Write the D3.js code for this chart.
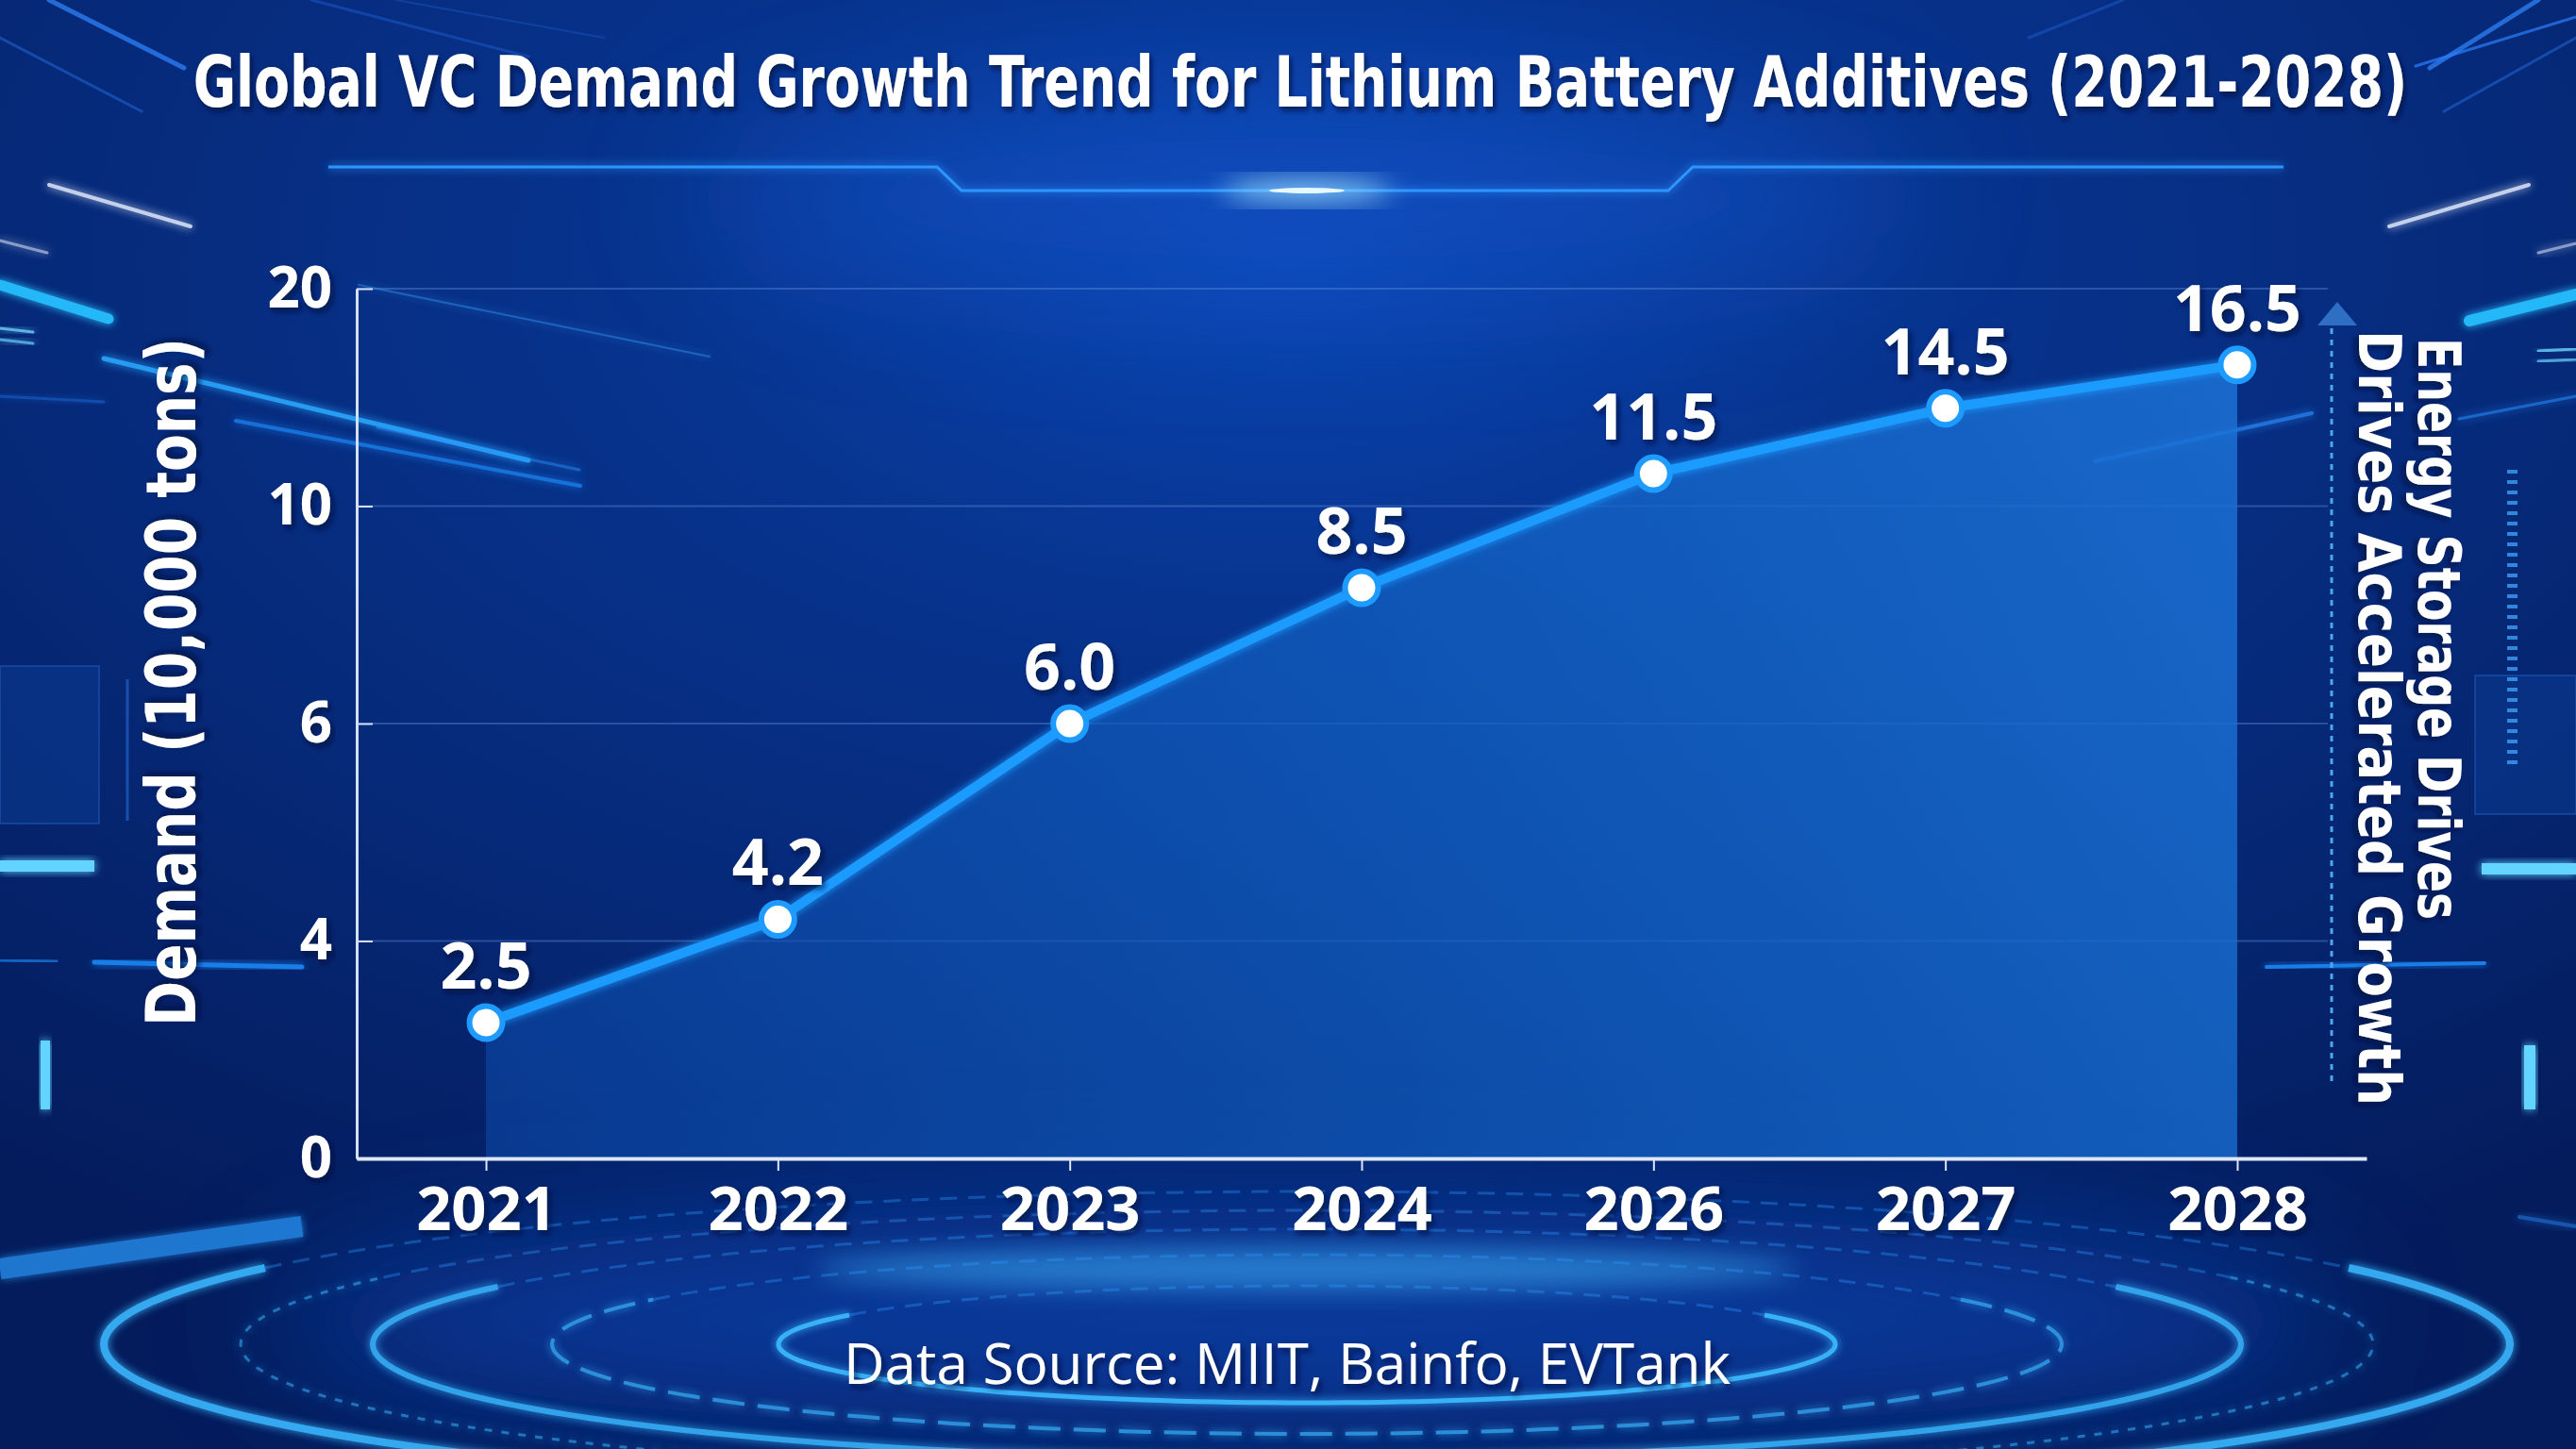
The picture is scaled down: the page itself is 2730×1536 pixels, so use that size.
<!DOCTYPE html>
<html>
<head>
<meta charset="utf-8">
<script src="https://cdn.jsdelivr.net/npm/d3@7"></script>
<style>
  html, body { margin: 0; padding: 0; background: #051f66; overflow: hidden; }
  svg { display: block; }
</style>
</head>
<body>
<div id="chart"></div>
<script>
var years = ["2021", "2022", "2023", "2024", "2026", "2027", "2028"];
var demand = [2.5, 4.2, 6.0, 8.5, 11.5, 14.5, 16.5];
var yTicks = [0, 4, 6, 10, 20];
var titleText = "Global VC Demand Growth Trend for Lithium Battery Additives (2021-2028)";
var yLabel = "Demand (10,000 tons)";
var noteLines = ["Energy Storage Drives", "Drives Accelerated Growth"];
var sourceText = "Data Source: MIIT, Bainfo, EVTank";

var width = 2730, height = 1536;
var plot = {left: 378, right: 2508, top: 306, bottom: 1228, gridEnd: 2467};
var narrow = "'Liberation Sans Narrow', 'DejaVu Sans Condensed', 'Roboto', sans-serif";
var sans = "'Open Sans', 'Noto Sans', 'Lato', sans-serif";

var rows = years.map(function(yr, i) { return {year: yr, value: demand[i]}; });

var svg = d3.select("#chart").append("svg")
    .attr("width", width)
    .attr("height", height)
    .attr("viewBox", [0, 0, width, height]);

var defs = svg.append("defs");

var bg = defs.append("radialGradient").attr("id", "bg")
    .attr("cx", "50%").attr("cy", "18%").attr("r", "80%");
bg.append("stop").attr("offset", "0%").attr("stop-color", "#0a45b2");
bg.append("stop").attr("offset", "30%").attr("stop-color", "#07348f");
bg.append("stop").attr("offset", "60%").attr("stop-color", "#062a7a");
bg.append("stop").attr("offset", "100%").attr("stop-color", "#041c5c");

var areaGrad = defs.append("linearGradient").attr("id", "areaGrad")
    .attr("gradientUnits", "userSpaceOnUse")
    .attr("x1", 515).attr("y1", 1228).attr("x2", 2371).attr("y2", 355);
areaGrad.append("stop").attr("offset", "0%").attr("stop-color", "#0c4cae").attr("stop-opacity", 0.55);
areaGrad.append("stop").attr("offset", "55%").attr("stop-color", "#1160c2").attr("stop-opacity", 0.75);
areaGrad.append("stop").attr("offset", "100%").attr("stop-color", "#1b72d6").attr("stop-opacity", 0.85);

var glow = defs.append("filter").attr("id", "glow")
    .attr("x", "-20%").attr("y", "-50%").attr("width", "140%").attr("height", "200%");
glow.append("feGaussianBlur").attr("stdDeviation", 5).attr("result", "b");
var gm = glow.append("feMerge");
gm.append("feMergeNode").attr("in", "b");
gm.append("feMergeNode").attr("in", "SourceGraphic");

defs.append("filter").attr("id", "blur")
    .attr("x", "-50%").attr("y", "-50%").attr("width", "200%").attr("height", "200%")
  .append("feGaussianBlur").attr("stdDeviation", 14);

defs.append("filter").attr("id", "haze")
    .attr("x", "-50%").attr("y", "-100%").attr("width", "200%").attr("height", "300%")
  .append("feGaussianBlur").attr("stdDeviation", 70);

defs.append("filter").attr("id", "shadow")
    .attr("x", "-10%").attr("y", "-30%").attr("width", "120%").attr("height", "160%")
  .append("feDropShadow")
    .attr("dx", 3).attr("dy", 4).attr("stdDeviation", 3)
    .attr("flood-color", "#00103a").attr("flood-opacity", 0.75);

// ---- background ----
var back = svg.append("g").attr("class", "background");
back.append("rect").attr("width", width).attr("height", height).attr("fill", "url(#bg)");

// haze behind the header and above the rings
back.append("ellipse").attr("cx", 1385).attr("cy", 210).attr("rx", 650).attr("ry", 110)
    .attr("fill", "#1358d0").attr("opacity", 0.45).attr("filter", "url(#haze)");
back.append("ellipse").attr("cx", 1385).attr("cy", 1400).attr("rx", 1100).attr("ry", 120)
    .attr("fill", "#0c4ec4").attr("opacity", 0.6).attr("filter", "url(#haze)");

// perspective beams from the top corners
var beams = [
  [52, 0, 195, 72, 5, "#2b7cf0", 0.8], [0, 40, 150, 118, 3, "#1f62d0", 0.6],
  [330, 0, 560, 60, 3, "#1d5ccc", 0.5], [420, 0, 640, 40, 2, "#1d5ccc", 0.4],
  [2690, 0, 2575, 72, 5, "#2b7cf0", 0.8], [2730, 40, 2590, 118, 3, "#1f62d0", 0.6],
  [2250, 0, 2150, 40, 3, "#1d5ccc", 0.5], [2560, 70, 2730, 18, 3, "#2a7fff", 0.7]
];
back.selectAll(".beam").data(beams).enter().append("line")
    .attr("class", "beam")
    .attr("x1", function(d) { return d[0]; }).attr("y1", function(d) { return d[1]; })
    .attr("x2", function(d) { return d[2]; }).attr("y2", function(d) { return d[3]; })
    .attr("stroke-width", function(d) { return d[4]; })
    .attr("stroke", function(d) { return d[5]; })
    .attr("opacity", function(d) { return d[6]; })
    .attr("stroke-linecap", "round");

// side streaks and bars
var streaks = [
  [52, 196, 202, 240, 4, "#e6eeff", 0.85], [0, 255, 50, 268, 3, "#dfe8ff", 0.6],
  [0, 302, 115, 338, 11, "#27c0ff", 0.95], [0, 348, 35, 352, 3, "#6fd6ff", 0.8],
  [0, 360, 35, 364, 3, "#6fd6ff", 0.7], [110, 380, 560, 488, 5, "#2aa8ff", 0.9],
  [250, 446, 615, 515, 4, "#1f8fff", 0.7], [380, 302, 752, 378, 2, "#3aa0ff", 0.45],
  [400, 453, 614, 498, 3, "#2596ff", 0.5], [0, 420, 110, 426, 3, "#1a6fe0", 0.5],
  [100, 1020, 320, 1025, 5, "#1f8fff", 0.85], [0, 1018, 60, 1019, 3, "#1f8fff", 0.6],
  [2532, 240, 2680, 196, 4, "#e6eeff", 0.85], [2690, 268, 2730, 258, 3, "#dfe8ff", 0.6],
  [2617, 340, 2730, 312, 12, "#27c0ff", 0.95], [2690, 372, 2730, 370, 3, "#6fd6ff", 0.8],
  [2690, 383, 2730, 381, 3, "#6fd6ff", 0.7], [2220, 489, 2450, 438, 4, "#2a8fff", 0.7],
  [2606, 444, 2730, 420, 3, "#2a8fff", 0.6], [2402, 1025, 2633, 1021, 4, "#1e8fff", 0.85],
  [2670, 1290, 2730, 1300, 4, "#2a8fff", 0.5]
];
back.selectAll(".streak").data(streaks).enter().append("line")
    .attr("class", "streak")
    .attr("x1", function(d) { return d[0]; }).attr("y1", function(d) { return d[1]; })
    .attr("x2", function(d) { return d[2]; }).attr("y2", function(d) { return d[3]; })
    .attr("stroke-width", function(d) { return d[4]; })
    .attr("stroke", function(d) { return d[5]; })
    .attr("opacity", function(d) { return d[6]; })
    .attr("stroke-linecap", "round")
    .attr("filter", "url(#glow)");

var panels = [[0, 706, 105, 167], [2623, 716, 107, 147]];
back.selectAll(".panel").data(panels).enter().append("rect")
    .attr("class", "panel")
    .attr("x", function(d) { return d[0]; }).attr("y", function(d) { return d[1]; })
    .attr("width", function(d) { return d[2]; }).attr("height", function(d) { return d[3]; })
    .attr("fill", "#0b3a92").attr("fill-opacity", 0.55)
    .attr("stroke", "#2d70d4").attr("stroke-opacity", 0.35).attr("stroke-width", 2);

var bars = [[0, 912, 100, 12], [2630, 915, 100, 12], [43, 1103, 10, 73], [2675, 1108, 12, 68]];
back.selectAll(".bar").data(bars).enter().append("rect")
    .attr("class", "bar")
    .attr("x", function(d) { return d[0]; }).attr("y", function(d) { return d[1]; })
    .attr("width", function(d) { return d[2]; }).attr("height", function(d) { return d[3]; })
    .attr("fill", "#63d4ff")
    .attr("filter", "url(#glow)");

back.append("line").attr("x1", 135).attr("y1", 720).attr("x2", 135).attr("y2", 870)
    .attr("stroke", "#2a7ae8").attr("stroke-width", 3).attr("opacity", 0.5);

// equalizer dashes on the right
back.selectAll(".eq").data(d3.range(500, 815, 11)).enter().append("line")
    .attr("class", "eq")
    .attr("x1", 2657).attr("x2", 2668)
    .attr("y1", function(d) { return d; }).attr("y2", function(d) { return d; })
    .attr("stroke", "#3fa8ff").attr("stroke-width", 4).attr("opacity", 0.75);

// header line with its glowing centre
back.append("polyline")
    .attr("points", "348,177 993,177 1019,202 1768,202 1794,177 2420,177")
    .attr("fill", "none").attr("stroke", "#2f95ff").attr("stroke-width", 3)
    .attr("filter", "url(#glow)");
back.append("ellipse").attr("cx", 1385).attr("cy", 202).attr("rx", 90).attr("ry", 10)
    .attr("fill", "#9fe0ff").attr("filter", "url(#blur)");
back.append("ellipse").attr("cx", 1385).attr("cy", 202).attr("rx", 40).attr("ry", 3)
    .attr("fill", "#e8f8ff");

// rings at the bottom
var ringC = {x: 1385, y: 1425};
var rings = [
  [560, 62, 5, 0.95, null], [800, 95, 4, 0.7, "34 14"], [990, 122, 6, 0.85, null],
  [1130, 142, 3, 0.55, "8 10"], [1275, 162, 8, 0.9, null]
];
var ringLine = d3.line();
back.append("ellipse").attr("cx", ringC.x).attr("cy", 1345).attr("rx", 520).attr("ry", 22)
    .attr("fill", "#3fb8ff").attr("opacity", 0.55).attr("filter", "url(#blur)");
back.selectAll(".ring").data(rings).enter().append("path")
    .attr("class", "ring")
    .attr("d", function(d) {
      var pts = d3.range(-30, 211, 2).map(function(a) {
        var t = a * Math.PI / 180;
        return [ringC.x + d[0] * Math.cos(t), ringC.y + d[1] * Math.sin(t)];
      });
      return ringLine(pts);
    })
    .attr("fill", "none")
    .attr("stroke", "#3ab8ff")
    .attr("stroke-width", function(d) { return d[2]; })
    .attr("opacity", function(d) { return d[3]; })
    .attr("stroke-dasharray", function(d) { return d[4]; })
    .attr("filter", "url(#glow)");
back.selectAll(".ringTop").data(rings).enter().append("path")
    .attr("class", "ringTop")
    .attr("d", function(d) {
      var pts = d3.range(210, 331, 2).map(function(a) {
        var t = a * Math.PI / 180;
        return [ringC.x + d[0] * Math.cos(t), ringC.y + d[1] * Math.sin(t)];
      });
      return ringLine(pts);
    })
    .attr("fill", "none")
    .attr("stroke", "#2f9cff")
    .attr("stroke-width", 3)
    .attr("opacity", 0.35)
    .attr("stroke-dasharray", "18 12");
back.append("path")
    .attr("d", "M0,1345 L320,1300")
    .attr("stroke", "#2a9dff").attr("stroke-width", 22).attr("opacity", 0.7)
    .attr("filter", "url(#glow)");

// ---- chart ----
var x = d3.scalePoint()
    .domain(years)
    .range([plot.left, plot.right])
    .padding(0.443);

var step = (plot.bottom - plot.top) / (yTicks.length - 1);
var y = d3.scaleLinear()
    .domain(yTicks)
    .range(yTicks.map(function(d, i) { return plot.bottom - i * step; }));

var chart = svg.append("g").attr("class", "chart");

chart.append("g").attr("class", "grid")
  .selectAll("line").data(yTicks.filter(function(d) { return d > 0; })).enter().append("line")
    .attr("x1", plot.left).attr("x2", plot.gridEnd)
    .attr("y1", function(d) { return y(d); }).attr("y2", function(d) { return y(d); })
    .attr("stroke", "#6f9be6").attr("stroke-opacity", 0.35).attr("stroke-width", 2);

var area = d3.area()
    .x(function(d) { return x(d.year); })
    .y0(y(0))
    .y1(function(d) { return y(d.value); });

chart.append("path").datum(rows)
    .attr("d", area)
    .attr("fill", "url(#areaGrad)");

var yAxis = chart.append("g")
    .attr("transform", "translate(" + plot.left + ",0)")
    .call(d3.axisLeft(y).tickValues(yTicks).tickSize(-17).tickSizeOuter(0).tickPadding(26));
yAxis.select(".domain").attr("stroke", "#d3dff3").attr("stroke-width", 3);
yAxis.selectAll(".tick line").attr("stroke", "#d3dff3").attr("stroke-width", 2);
yAxis.selectAll(".tick text")
    .attr("fill", "#ffffff")
    .style("font-family", sans).style("font-weight", 700).style("font-size", "60px")
    .attr("filter", "url(#shadow)");

var xAxis = chart.append("g")
    .attr("transform", "translate(0," + plot.bottom + ")")
    .call(d3.axisBottom(x).tickSize(13).tickSizeOuter(0).tickPadding(17));
xAxis.select(".domain").attr("stroke", "#dde7f6").attr("stroke-width", 4);
xAxis.selectAll(".tick line").attr("stroke", "#dde7f6").attr("stroke-width", 2);
xAxis.selectAll(".tick text")
    .attr("fill", "#ffffff")
    .style("font-family", sans).style("font-weight", 700).style("font-size", "65px")
    .attr("filter", "url(#shadow)");

var line = d3.line()
    .x(function(d) { return x(d.year); })
    .y(function(d) { return y(d.value); });

chart.append("path").datum(rows)
    .attr("d", line)
    .attr("fill", "none")
    .attr("stroke", "#1e9bff")
    .attr("stroke-width", 10)
    .attr("stroke-linejoin", "round")
    .attr("filter", "url(#glow)");

chart.selectAll(".dot").data(rows).enter().append("circle")
    .attr("class", "dot")
    .attr("cx", function(d) { return x(d.year); })
    .attr("cy", function(d) { return y(d.value); })
    .attr("r", 17.5)
    .attr("fill", "#ffffff")
    .attr("stroke", "#1e9bff")
    .attr("stroke-width", 6);

var fmt = d3.format(".1f");
chart.selectAll(".val").data(rows).enter().append("text")
    .attr("class", "val")
    .attr("x", function(d) { return x(d.year); })
    .attr("y", function(d) { return y(d.value) - 36; })
    .attr("text-anchor", "middle")
    .attr("fill", "#ffffff")
    .style("font-family", sans).style("font-weight", 700).style("font-size", "68px")
    .attr("filter", "url(#shadow)")
    .text(function(d) { return fmt(d.value); });

// ---- texts ----
// title is squeezed horizontally to the reference width rather than stretched by textLength
var title = svg.append("text")
    .attr("text-anchor", "middle")
    .attr("fill", "#ffffff")
    .style("font-family", narrow).style("font-weight", 700).style("font-size", "74px")
    .attr("filter", "url(#shadow)")
    .text(titleText);
var titleW = title.node().getComputedTextLength();
var titleK = Math.min(1, 2347 / titleW);
title.attr("transform", "translate(1378,113) scale(" + titleK + ",1)");

svg.append("text")
    .attr("transform", "translate(207,723) rotate(-90)")
    .attr("text-anchor", "middle")
    .attr("textLength", 730).attr("lengthAdjust", "spacingAndGlyphs")
    .attr("fill", "#ffffff")
    .style("font-family", narrow).style("font-weight", 700).style("font-size", "73px")
    .attr("filter", "url(#shadow)")
    .text(yLabel);

// annotation arrow on the right
svg.append("line")
    .attr("x1", 2471).attr("y1", 348).attr("x2", 2471).attr("y2", 1152)
    .attr("stroke", "#4aa8f0").attr("stroke-width", 3).attr("stroke-dasharray", "6 6");
svg.append("path")
    .attr("d", "M2477,320 L2498,345 L2456,345 Z")
    .attr("fill", "#2e6fc4");

var noteBase = [2563, 2500];
var noteStart = [358, 350];
var noteLen = [617, 822];
svg.selectAll(".note").data(noteLines).enter().append("text")
    .attr("class", "note")
    .attr("transform", function(d, i) { return "translate(" + noteBase[i] + "," + noteStart[i] + ") rotate(90)"; })
    .attr("textLength", function(d, i) { return noteLen[i]; })
    .attr("lengthAdjust", "spacingAndGlyphs")
    .attr("fill", "#ffffff")
    .style("font-family", narrow).style("font-weight", 700).style("font-size", "63px")
    .attr("filter", "url(#shadow)")
    .text(function(d) { return d; });

svg.append("text")
    .attr("x", 1364).attr("y", 1467)
    .attr("text-anchor", "middle")
    .attr("textLength", 940).attr("lengthAdjust", "spacingAndGlyphs")
    .attr("fill", "#ffffff")
    .style("font-family", sans).style("font-weight", 400).style("font-size", "60px")
    .attr("filter", "url(#shadow)")
    .text(sourceText);
</script>
</body>
</html>
